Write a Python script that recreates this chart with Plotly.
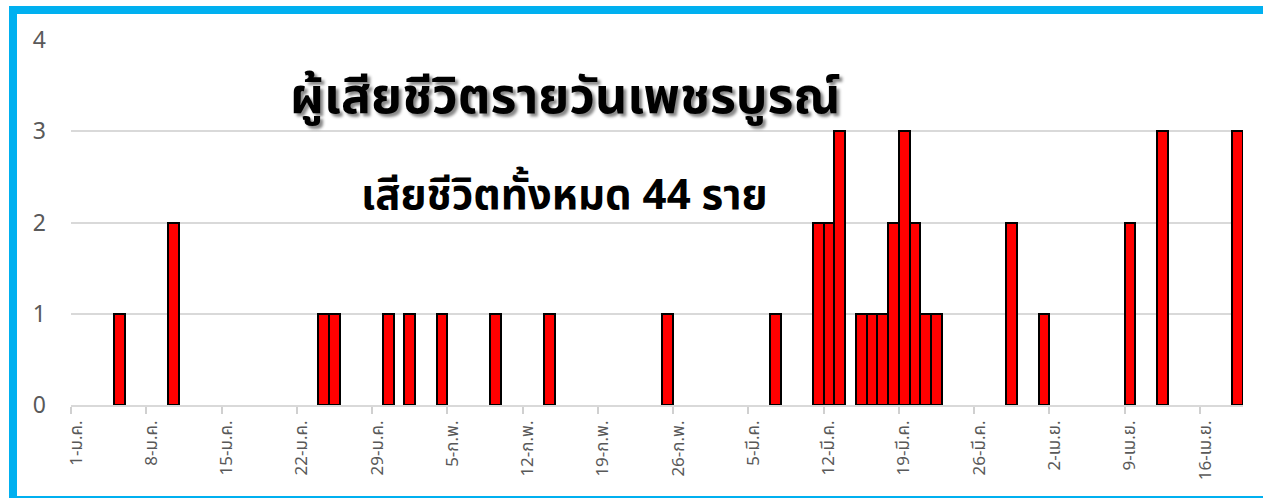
import plotly.graph_objects as go

# ---- data ----
death_dates = [
    "2021-01-05", "2021-01-10", "2021-01-24", "2021-01-25", "2021-01-30",
    "2021-02-01", "2021-02-04", "2021-02-09", "2021-02-14", "2021-02-25",
    "2021-03-07", "2021-03-11", "2021-03-12", "2021-03-13",
    "2021-03-15", "2021-03-16", "2021-03-17", "2021-03-18", "2021-03-19",
    "2021-03-20", "2021-03-21", "2021-03-22",
    "2021-03-29", "2021-04-01", "2021-04-09", "2021-04-12", "2021-04-19",
]
deaths = [
    1, 2, 1, 1, 1,
    1, 1, 1, 1, 1,
    1, 2, 2, 3,
    1, 1, 1, 2, 3,
    2, 1, 1,
    2, 1, 2, 3, 3,
]
tick_dates = [
    "2021-01-01", "2021-01-08", "2021-01-15", "2021-01-22", "2021-01-29",
    "2021-02-05", "2021-02-12", "2021-02-19", "2021-02-26", "2021-03-05",
    "2021-03-12", "2021-03-19", "2021-03-26", "2021-04-02", "2021-04-09",
    "2021-04-16",
]
tick_labels = [
    "1-ม.ค.", "8-ม.ค.", "15-ม.ค.", "22-ม.ค.", "29-ม.ค.",
    "5-ก.พ.", "12-ก.พ.", "19-ก.พ.", "26-ก.พ.", "5-มี.ค.",
    "12-มี.ค.", "19-มี.ค.", "26-มี.ค.", "2-เม.ย.", "9-เม.ย.",
    "16-เม.ย.",
]
y_ticks = [0, 1, 2, 3, 4]
title_text = "ผู้เสียชีวิตรายวันเพชรบูรณ์"
subtitle_text = "เสียชีวิตทั้งหมด 44 ราย"

DAY_MS = 86400000
FONT = "Noto Sans Thai, Tahoma, Leelawadee UI, Noto Sans, sans-serif"

W, H = 1263, 498
L, R, T, B = 71, 20, 40, 93
pw, ph = W - L - R, H - T - B


def px2x(px):
    return (px - L) / pw


def py2y(py):
    return (H - B - py) / ph


FRAME = dict(color="#00B0F0", width=8)
fx0, fx1, fy0, fy1 = 13, 1300, 500, 10

fig = go.Figure()
fig.add_trace(go.Bar(
    x=death_dates, y=deaths,
    xperiod=DAY_MS, xperiodalignment="middle",
    width=DAY_MS,
    marker=dict(color="#FF0000", line=dict(color="#000000", width=2)),
    hoverinfo="x+y",
))

frame_shapes = [
    # top
    dict(type="line", xref="paper", yref="paper",
         x0=px2x(fx0 - 4), x1=px2x(fx1), y0=py2y(fy1), y1=py2y(fy1),
         line=FRAME, layer="above"),
    # left
    dict(type="line", xref="paper", yref="paper",
         x0=px2x(fx0), x1=px2x(fx0), y0=py2y(fy1 - 4), y1=py2y(fy0),
         line=FRAME, layer="above"),
    # bottom
    dict(type="line", xref="paper", yref="paper",
         x0=px2x(fx0 - 4), x1=px2x(fx1), y0=py2y(fy0), y1=py2y(fy0),
         line=FRAME, layer="above"),
]

fig.update_layout(
    width=W, height=H,
    margin=dict(l=L, r=R, t=T, b=B, autoexpand=False),
    paper_bgcolor="white", plot_bgcolor="white",
    showlegend=False,
    bargap=0,
    font=dict(family=FONT, color="#595959"),
    xaxis=dict(
        type="date",
        range=["2021-01-01", "2021-04-20"],
        tickmode="array", tickvals=tick_dates, ticktext=tick_labels,
        tickangle=-90,
        ticks="outside", ticklen=7, tickwidth=1.5, tickcolor="#d0d0d0",
        ticklabelshift=5,
        tickfont=dict(size=17, color="#595959", family=FONT),
        showgrid=False, zeroline=False,
        showline=True, linecolor="#d9d9d9", linewidth=1.5,
        automargin=False,
    ),
    yaxis=dict(
        range=[0, 4],
        tickmode="array", tickvals=y_ticks,
        tickfont=dict(size=23, color="#595959", family=FONT),
        ticklabelstandoff=24,
        showgrid=True, gridcolor="#d9d9d9", gridwidth=1.5,
        zeroline=False, showline=False,
        automargin=False,
    ),
    shapes=frame_shapes,
    annotations=[
        dict(text="<b>" + title_text + "</b>", xref="paper", yref="paper",
             x=px2x(565), y=py2y(98), xanchor="center", yanchor="middle",
             showarrow=False,
             font=dict(size=50, color="#000000", family=FONT,
                       shadow="3px 3px 3px #888888")),
        dict(text="<b>" + subtitle_text + "</b>", xref="paper", yref="paper",
             x=px2x(564), y=py2y(196), xanchor="center", yanchor="middle",
             showarrow=False,
             font=dict(size=42, color="#000000", family=FONT)),
    ],
)

fig.write_html(
    "out.html",
    config={"displayModeBar": False},
    post_script="document.body.style.margin='0';document.body.style.overflow='hidden';",
)
